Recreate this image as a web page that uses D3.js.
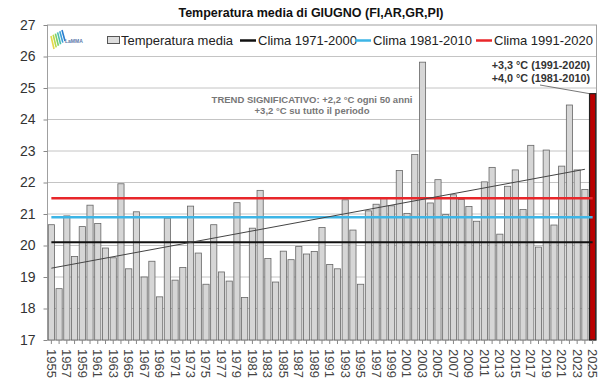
<!DOCTYPE html>
<head>
  <meta charset="utf-8">
  <script src="https://d3js.org/d3.v7.min.js"></script>
  <style>
    body {
      margin: 0;
      background: #fff;
      font-family: "Liberation Sans", Arial, sans-serif;
    }
    .grid line { stroke: #c4c4c4; stroke-width: 1; }
    .axis path { display: none; }
    .axis line { stroke: #888; }
    .axis text { fill: #333; font-family: "Liberation Sans", Arial, sans-serif; }
    .bar { fill: #d6d6d6; stroke: #666; stroke-width: 0.8; }
  </style>
</head>

<body>
  <div id="chart"></div>

  <script>
    // dati: temperatura media di giugno (FI, AR, GR, PI)
    var years = d3.range(1955, 2026);
    var temps = [
      20.66, 18.63, 20.94, 19.65, 20.60, 21.28, 20.70, 19.92, 19.61, 21.96,
      19.26, 21.07, 19.00, 19.50, 18.37, 20.87, 18.90, 19.30, 21.25, 19.76,
      18.77, 20.66, 19.16, 18.87, 21.36, 18.35, 20.55, 21.75, 19.59, 18.84,
      19.82, 19.55, 19.97, 19.73, 19.81, 20.57, 19.40, 19.26, 21.45, 20.49,
      18.77, 21.10, 21.31, 21.50, 21.26, 22.38, 21.02, 22.89, 25.82, 21.35,
      22.09, 20.98, 21.61, 21.46, 21.24, 20.77, 22.02, 22.48, 20.36, 21.88,
      22.40, 21.14, 23.18, 19.95, 23.03, 20.65, 22.52, 24.46, 22.40, 21.78,
      24.82
    ];
    var climaLabels = ["Clima 1971-2000", "Clima 1981-2010", "Clima 1991-2020"];
    var climaValues = [20.1, 20.9, 21.5];
    var trendYears = [1955, 2024];
    var trendValues = [19.28, 22.42];
    var yTicks = d3.range(17, 28);
    var xTickLabels = years.filter(function(y) { return y % 2 === 1; });
    var title = "Temperatura media di GIUGNO (FI,AR,GR,PI)";
    var trendText = ["TREND SIGNIFICATIVO: +2,2 °C ogni 50 anni", "+3,2 °C su tutto il periodo"];
    var deltaText = ["+3,3 °C (1991-2020)", "+4,0 °C (1981-2010)"];

    var width = 600, height = 388;
    var plotLeft = 47.5, plotRight = 596.5, plotTop = 25, plotBottom = 340;
    var climaColors = ["#111", "#3db5e6", "#e8262a"];

    var svg = d3.select("#chart").append("svg")
      .attr("width", width)
      .attr("height", height);

    var x = d3.scaleBand()
      .domain(years)
      .range([plotLeft, plotRight])
      .paddingInner(0.2)
      .paddingOuter(0.1);

    var y = d3.scaleLinear()
      .domain([17, 27])
      .range([plotBottom, plotTop]);

    // griglia
    svg.append("g").attr("class", "grid")
      .selectAll("line")
        .data(yTicks.slice(1, -1))
      .enter().append("line")
        .attr("x1", plotLeft).attr("x2", plotRight)
        .attr("y1", function(d) { return y(d); })
        .attr("y2", function(d) { return y(d); });

    // cornice
    svg.append("rect")
      .attr("x", plotLeft).attr("y", plotTop)
      .attr("width", plotRight - plotLeft).attr("height", plotBottom - plotTop)
      .attr("fill", "none").attr("stroke", "#a0a0a0");

    // barre
    svg.append("g")
      .selectAll("rect")
        .data(years)
      .enter().append("rect")
        .attr("class", "bar")
        .attr("x", function(d) { return x(d); })
        .attr("width", x.bandwidth())
        .attr("y", function(d, i) { return y(temps[i]); })
        .attr("height", function(d, i) { return y(17) - y(temps[i]); })
        .style("fill", function(d) { return d === 2025 ? "#b80000" : null; })
        .style("stroke", function(d) { return d === 2025 ? "#222" : null; })
        .style("stroke-width", function(d) { return d === 2025 ? 1.2 : null; });

    var cx = function(d) { return x(d) + x.bandwidth() / 2; };

    // linee climatologiche
    svg.append("g")
      .selectAll("line")
        .data(climaValues)
      .enter().append("line")
        .attr("x1", cx(years[0]))
        .attr("x2", cx(years[years.length - 1]))
        .attr("y1", function(d) { return y(d); })
        .attr("y2", function(d) { return y(d); })
        .attr("stroke", function(d, i) { return climaColors[i]; })
        .attr("stroke-width", function(d, i) { return i === 0 ? 2 : 2.5; });

    // trend
    svg.append("line")
      .attr("x1", cx(trendYears[0])).attr("y1", y(trendValues[0]))
      .attr("x2", cx(trendYears[1])).attr("y2", y(trendValues[1]))
      .attr("stroke", "#444").attr("stroke-width", 1);

    // asse y
    var yAxis = svg.append("g")
      .attr("class", "axis")
      .attr("transform", "translate(" + plotLeft + ",0)")
      .call(d3.axisLeft(y).tickValues(yTicks).tickFormat(d3.format("d")).tickSize(4).tickPadding(8));
    yAxis.selectAll("text").style("font-size", "14px");

    // asse x
    var xAxis = svg.append("g")
      .attr("class", "axis")
      .attr("transform", "translate(0," + plotBottom + ")")
      .call(d3.axisBottom(x).tickSize(4).tickFormat(function(d) {
        return xTickLabels.indexOf(d) >= 0 ? d : "";
      }));
    xAxis.selectAll("text")
      .style("font-size", "13px")
      .style("fill", "#444")
      .attr("transform", "rotate(90)")
      .attr("x", 9)
      .attr("y", 0)
      .attr("dy", "0.35em")
      .style("text-anchor", "start");

    // titolo
    svg.append("text")
      .attr("x", 311).attr("y", 17)
      .attr("text-anchor", "middle")
      .style("font-weight", "bold")
      .style("font-size", "12.5px")
      .attr("fill", "#111")
      .text(title);

    // logo LaMMA
    var logo = svg.append("g").attr("transform", "translate(50,29)");
    var stripeColors = ["#2a7fd0", "#3aa0d8", "#4cbfae", "#7ccf6a", "#b8d948", "#e6d84a"];
    logo.selectAll("line")
        .data(stripeColors)
      .enter().append("line")
        .attr("x1", function(d, i) { return 12 - i * 2.2; })
        .attr("y1", function(d, i) { return 1 + i * 1.2; })
        .attr("x2", function(d, i) { return 15 - i * 2.2; })
        .attr("y2", function(d, i) { return 12 + i * 1.6; })
        .attr("stroke", function(d) { return d; })
        .attr("stroke-width", 1.6);
    logo.append("text")
      .attr("x", 15).attr("y", 14)
      .style("font-size", "5px").style("font-weight", "bold")
      .attr("fill", "#5a78a8")
      .text("LaMMA");

    // legenda
    var legend = svg.append("g").style("font-size", "13px").attr("fill", "#222");
    legend.append("rect")
      .attr("x", 107.5).attr("y", 36.5).attr("width", 12).attr("height", 7)
      .attr("fill", "#ddd").attr("stroke", "#555");
    legend.append("text").attr("x", 121).attr("y", 45).text("Temperatura media");
    var legendX = [240, 355, 476];
    climaLabels.forEach(function(label, i) {
      legend.append("line")
        .attr("x1", legendX[i]).attr("x2", legendX[i] + 16)
        .attr("y1", 40.5).attr("y2", 40.5)
        .attr("stroke", climaColors[i]).attr("stroke-width", 2.5);
      legend.append("text").attr("x", legendX[i] + 18).attr("y", 45).text(label);
    });

    // testo trend
    svg.append("g")
      .selectAll("text")
        .data(trendText)
      .enter().append("text")
        .attr("x", 312)
        .attr("y", function(d, i) { return 103 + i * 11; })
        .attr("text-anchor", "middle")
        .style("font-size", "9.5px")
        .style("font-weight", "600")
        .attr("fill", "#777")
        .text(function(d) { return d; });

    // anomalie 2025
    svg.append("g")
      .selectAll("text")
        .data(deltaText)
      .enter().append("text")
        .attr("x", 590)
        .attr("y", function(d, i) { return 69 + i * 13; })
        .attr("text-anchor", "end")
        .style("font-size", "10.8px")
        .style("font-weight", "bold")
        .attr("fill", "#333")
        .text(function(d) { return d; });

    svg.append("line")
      .attr("x1", 540).attr("y1", 85)
      .attr("x2", x(2025)).attr("y2", y(temps[temps.length - 1]))
      .attr("stroke", "#555").attr("stroke-width", 0.8);
  </script>
</body>
